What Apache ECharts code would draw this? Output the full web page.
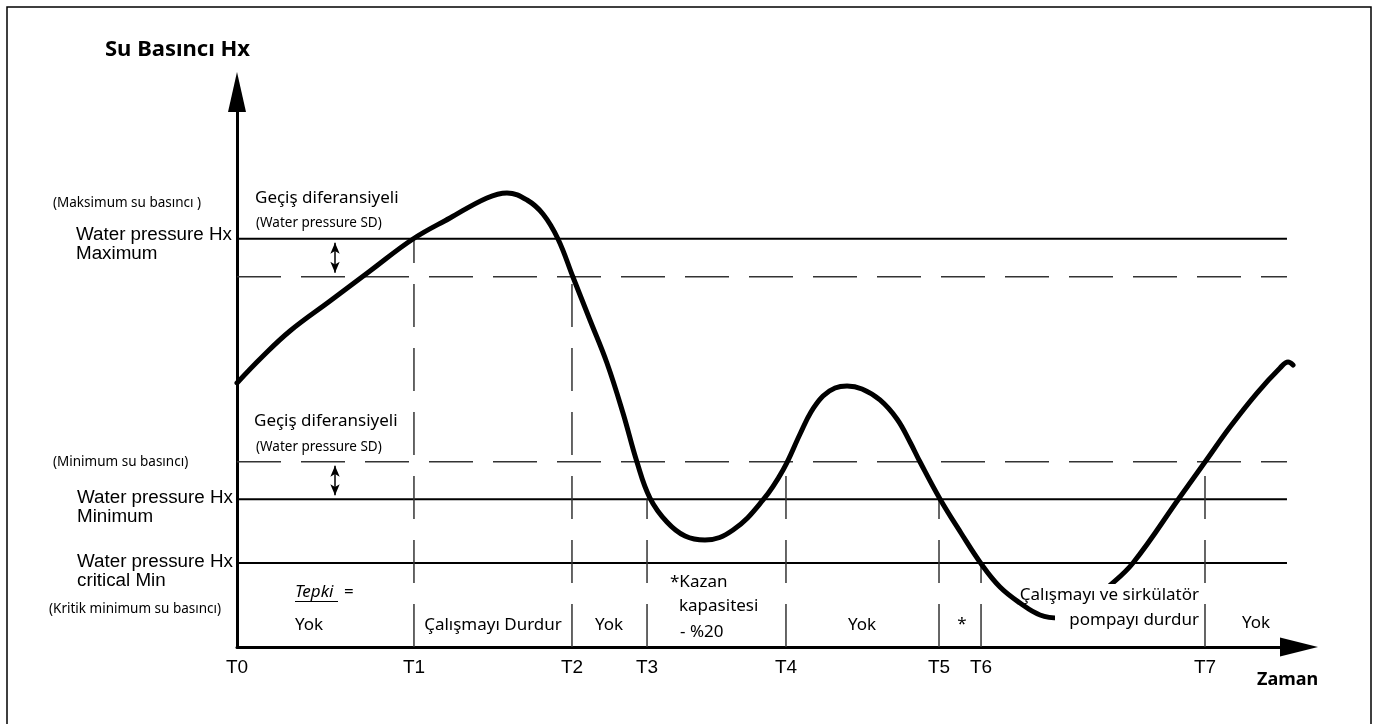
<!DOCTYPE html>
<html>
<head>
<meta charset="utf-8">
<script src="https://cdn.jsdelivr.net/npm/echarts@6/dist/echarts.min.js"></script>
<style>html,body{margin:0;padding:0;background:#fff}#c{width:1376px;height:724px}</style>
</head>
<body>
<div id="c"></div>
<script>
// ---- data (time units on x, pressure units on y) ----
const timeTicks  = [0, 16.34, 30.93, 37.86, 50.69, 64.82, 68.70, 89.38];
const timeLabels = ['T0', 'T1', 'T2', 'T3', 'T4', 'T5', 'T6', 'T7'];
const solidLevels = [71.0, 25.7, 14.6];      // Hx Maximum, Hx Minimum, Hx critical Min
const sdLevels    = [64.4, 32.2];            // Maximum - SD, Minimum + SD
const markerTimes = [16.34, 30.93, 37.86, 50.69, 64.82, 68.70, 89.38];
const markerTops  = [71.0, 64.4, 25.7, 32.2, 25.7, 14.6, 32.2];
const levelEnd = 96.95;
const sdArrowTime = 9.05;
const curveX = [0.00, 2.31, 4.89, 8.59, 12.28, 16.25, 19.67, 23.08, 24.93, 26.78, 28.25, 29.64, 31.02,
  32.59, 34.16, 35.64, 36.93, 38.13, 39.70, 41.37, 43.21, 45.80, 48.57, 50.42, 51.99, 53.00, 54.11, 55.22,
  56.33, 57.71, 59.37, 60.94, 62.14, 63.07, 64.91, 66.85, 68.79, 70.45, 72.30, 74.15, 75.99, 78.30, 80.43,
  82.73, 87.07, 89.38, 91.69, 94.18, 96.31, 97.05, 97.51];
const curveY = [45.91, 50.43, 54.96, 60.17, 65.39, 70.96, 74.61, 78.09, 78.96, 77.74, 75.30, 70.96, 64.35,
  56.87, 49.39, 40.70, 32.17, 25.91, 21.74, 19.30, 18.61, 20.35, 25.57, 30.78, 37.04, 40.87, 43.65, 45.04,
  45.39, 44.87, 42.96, 39.65, 35.65, 32.17, 25.74, 19.83, 14.26, 10.43, 7.65, 5.57, 5.04, 7.13, 10.43,
  14.61, 26.09, 32.17, 38.26, 44.17, 48.52, 49.57, 49.04];

// ---- chart ----
const chart = echarts.init(document.getElementById('c'), null, {renderer: 'canvas'});
const CAL = '"Noto Sans"';
const ARI = '"Liberation Sans"';

const series = [];
solidLevels.forEach(v => series.push({
  type: 'line', data: [[0, v], [levelEnd, v]], symbol: 'none', silent: true, z: 2,
  lineStyle: {color: '#000', width: 2, type: 'solid'}
}));
sdLevels.forEach((v, i) => series.push({
  type: 'line', data: [[0, v], [levelEnd, v]], symbol: 'none', silent: true, z: 2,
  lineStyle: {color: '#333', width: 1.5, type: [44, 20]},
  markLine: {
    silent: true, symbol: ['arrow', 'arrow'], symbolSize: [7, 11],
    label: {show: false},
    lineStyle: {color: '#000', width: 1.5, type: 'solid'},
    data: [[{coord: [sdArrowTime, i === 0 ? solidLevels[0] - 0.7 : v - 0.7]},
            {coord: [sdArrowTime, i === 0 ? v + 0.7 : solidLevels[1] + 0.7]}]]
  }
}));
markerTimes.forEach((t, i) => series.push({
  type: 'line', data: [[t, 0], [t, markerTops[i]]], symbol: 'none', silent: true, z: 2,
  lineStyle: {color: '#333', width: 1.5, type: [43, 21]}
}));
series.push({
  type: 'line', data: curveX.map((x, i) => [x, curveY[i]]), symbol: 'none', silent: true,
  smooth: 0.4, z: 3,
  lineStyle: {color: '#000', width: 5, cap: 'round', join: 'round'}
});

function txt(text, x, y, font, extra) {
  return {
    type: 'text', x: x, y: y, z: 10, silent: true,
    style: Object.assign({text: text, font: font, fill: '#000', verticalAlign: 'middle', align: 'left'}, extra || {})
  };
}

const graphics = [
  {type: 'rect', z: 1, silent: true, shape: {x: 7, y: 7, width: 1364, height: 730},
   style: {fill: 'none', stroke: '#000', lineWidth: 1.5}},
  {type: 'rect', z: 9, silent: true, shape: {x: 1055, y: 584, width: 146, height: 48}, style: {fill: '#fff'}},
  txt('Su Basıncı Hx', 105, 50, 'bold 22px ' + CAL),
  txt('(Maksimum su basıncı )', 53, 203, '13.5px ' + CAL),
  txt('Water pressure Hx\nMaximum', 76, 244.5, '18.8px ' + ARI, {lineHeight: 19}),
  txt('Geçiş diferansiyeli', 255, 198, '17px ' + CAL),
  txt('(Water pressure SD)', 256, 223, '13.5px ' + CAL),
  txt('Geçiş diferansiyeli', 254, 421, '17px ' + CAL),
  txt('(Water pressure SD)', 256, 447, '13.5px ' + CAL),
  txt('(Minimum su basıncı)', 53, 462, '13.5px ' + CAL),
  txt('Water pressure Hx\nMinimum', 77, 507, '18.8px ' + ARI, {lineHeight: 19}),
  txt('Water pressure Hx\ncritical Min', 77, 571.5, '18.8px ' + ARI, {lineHeight: 19}),
  txt('(Kritik minimum su basıncı)', 49, 609, '13.5px ' + CAL),
  txt('Tepki', 295, 592, 'italic 17px ' + CAL),
  txt('=', 344, 592, '17px ' + CAL),
  {type: 'line', z: 10, silent: true, shape: {x1: 295, y1: 601.5, x2: 338, y2: 601.5}, style: {stroke: '#000', lineWidth: 1}},
  txt('Yok', 295, 625, '17px ' + CAL),
  txt('Çalışmayı Durdur', 493, 625, '17px ' + CAL, {align: 'center'}),
  txt('Yok', 609, 625, '17px ' + CAL, {align: 'center'}),
  txt('*Kazan', 670, 582, '17px ' + CAL),
  txt('kapasitesi', 679, 606, '17px ' + CAL),
  txt('- %20', 680, 632, '17px ' + CAL),
  txt('Yok', 862, 625, '17px ' + CAL, {align: 'center'}),
  txt('*', 962, 624, '17px ' + CAL, {align: 'center'}),
  txt('Çalışmayı ve sirkülatör', 1199, 595, '17px ' + CAL, {align: 'right'}),
  txt('pompayı durdur', 1199, 620, '17px ' + CAL, {align: 'right'}),
  txt('Yok', 1256, 623, '17px ' + CAL, {align: 'center'}),
  txt('Zaman', 1257, 680, 'bold 18px ' + CAL)
];

chart.setOption({
  animation: false,
  backgroundColor: '#fff',
  grid: {left: 237, right: 77, top: 92, bottom: 77, containLabel: false},
  xAxis: {
    type: 'value', min: 0, max: 98.06,
    axisLine: {show: true, onZero: false, lineStyle: {color: '#000', width: 3}, symbol: ['none', 'triangle'], symbolSize: [19, 38]},
    axisTick: {show: false},
    splitLine: {show: false},
    axisLabel: {
      show: true, customValues: timeTicks, margin: 11,
      color: '#000', fontFamily: 'Liberation Sans', fontSize: 19,
      formatter: function (v) {
        let best = 0;
        timeTicks.forEach((t, i) => { if (Math.abs(t - v) < Math.abs(timeTicks[best] - v)) best = i; });
        return timeLabels[best];
      }
    }
  },
  yAxis: {
    type: 'value', min: 0, max: 96.52,
    axisLine: {show: true, onZero: false, lineStyle: {color: '#000', width: 3}, symbol: ['none', 'triangle'], symbolSize: [18, 40]},
    axisTick: {show: false},
    axisLabel: {show: false},
    splitLine: {show: false}
  },
  graphic: {elements: graphics},
  series: series
});
</script>
</body>
</html>
